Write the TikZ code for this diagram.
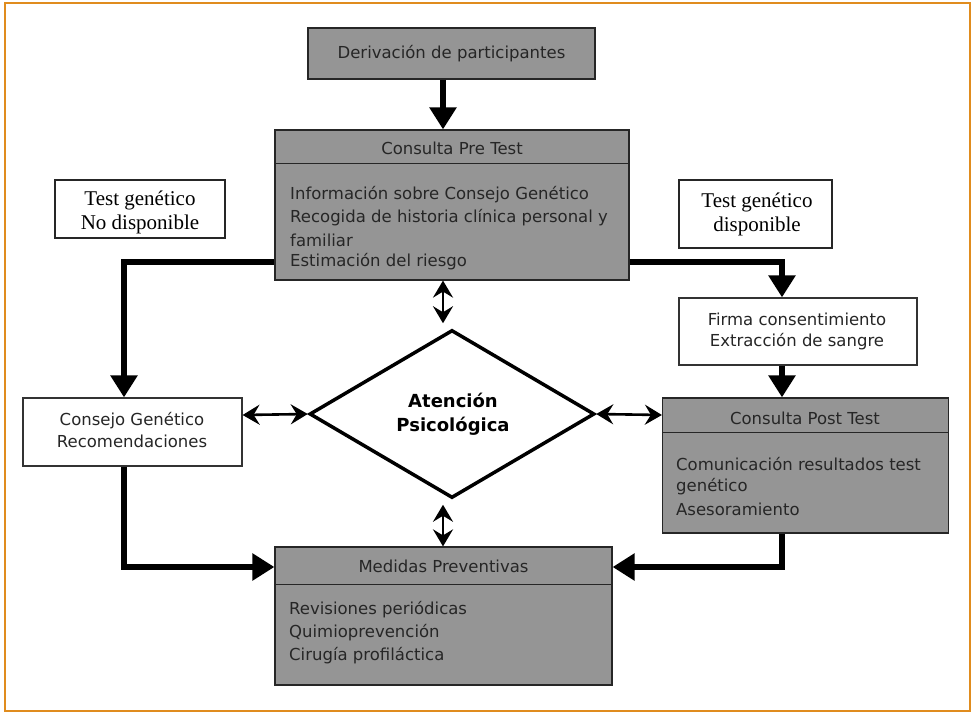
\documentclass[tikz,border=0pt]{standalone}
\usepackage{fontspec}
\setmainfont{DejaVu Sans}
\newfontfamily\serifx{Liberation Serif}
\usetikzlibrary{shapes.geometric,arrows.meta,calc}
\definecolor{boxgray}{HTML}{959595}
\definecolor{frameorange}{HTML}{E08C1E}
\begin{document}
\begin{tikzpicture}[x=1pt,y=-1pt,
  graybox/.style={draw=black!85,fill=boxgray,line width=1.2pt,inner sep=0pt},
  whitebox/.style={draw=black!80,fill=white,line width=1.2pt,inner sep=0pt},
  notebox/.style={draw=black!85,fill=white,line width=2.2pt,inner sep=0pt},
  txt/.style={font=\fontsize{16.5}{20}\selectfont,inner sep=0pt,text=black!85},
  sertxt/.style={font=\serifx\fontsize{21}{24}\selectfont,inner sep=0pt,align=center},
  thickarr/.style={line width=6pt,-{Triangle[length=22pt,width=26pt]}},
  thinarr/.style={line width=2.6pt,{Stealth[length=17pt,width=20pt,inset=6pt]}-{Stealth[length=17pt,width=20pt,inset=6pt]}}
]
\useasboundingbox (0,0) rectangle (972,712);
\fill[white] (0,0) rectangle (972,712);
\draw[frameorange,line width=2.2pt] (5,3) rectangle (970,711);

% Derivacion
\node[graybox,minimum width=287pt,minimum height=51pt] (deriv) at (451.5,53.5) {};
\node[txt] (derivt) at (deriv.center) {Derivación de participantes};

% Pre test
\node[graybox,minimum width=354pt,minimum height=150pt] (pre) at (452,205) {};
\draw[line width=1.2pt,black!85] ($(pre.north west)+(0,34)$) -- ($(pre.north east)+(0,34)$);
\node[txt] (preh) at (452,148) {Consulta Pre Test};
\node[txt,anchor=west] (pre1) at (290,195) {Información sobre Consejo Genético};
\node[txt,anchor=west] (pre2) at (290,218) {Recogida de historia clínica personal y};
\node[txt,anchor=west] (pre3) at (290,240) {familiar};
\node[txt,anchor=west] (pre4) at (290,262) {Estimación del riesgo};

% Notes
\node[notebox,minimum width=170pt,minimum height=58pt] (nodisp) at (140,209) {};
\node[sertxt] (nodispt) at (140,212) {Test genético\\No disponible};
\node[notebox,minimum width=153pt,minimum height=68pt] (disp) at (755.5,214) {};
\node[sertxt] (dispt) at (757,214) {Test genético\\disponible};

% Firma
\node[whitebox,minimum width=238pt,minimum height=67pt] (firma) at (798,331.5) {};
\node[txt,align=center,font=\fontsize{16.5}{21}\selectfont] (firmat) at (797,331) {Firma consentimiento\\Extracción de sangre};

% Consejo
\node[whitebox,minimum width=219pt,minimum height=68pt] (consejo) at (132.5,432) {};
\node[txt,align=center,font=\fontsize{16.5}{22}\selectfont] (consejot) at (132,430) {Consejo Genético\\Recomendaciones};

% Diamond
\node[diamond,draw=black,line width=3.5pt,fill=white,minimum width=285pt,minimum height=168pt,inner sep=0pt] (dia) at (452,414) {};
\node[font=\bfseries\fontsize{18}{24}\selectfont,align=center,inner sep=0pt] (diat) at (453,414) {Atención\\Psicológica};

% Post test
\node[graybox,minimum width=286pt,minimum height=135pt] (post) at (805.5,465.5) {};
\draw[line width=1.2pt,black!85] ($(post.north west)+(0,35)$) -- ($(post.north east)+(0,35)$);
\node[txt] (posth) at (805,418) {Consulta Post Test};
\node[txt,anchor=west] (post1) at (676,464) {Comunicación resultados test};
\node[txt,anchor=west] (post2) at (676,487) {genético};
\node[txt,anchor=west] (post3) at (676,509) {Asesoramiento};

% Medidas
\node[graybox,minimum width=337pt,minimum height=138pt] (med) at (443.5,616) {};
\draw[line width=1.2pt,black!85] ($(med.north west)+(0,38)$) -- ($(med.north east)+(0,38)$);
\node[txt] (medh) at (443.5,566) {Medidas Preventivas};
\node[txt,anchor=west] (med1) at (289,610) {Revisiones periódicas};
\node[txt,anchor=west] (med2) at (289,633) {Quimioprevención};
\node[txt,anchor=west] (med3) at (289,656) {Cirugía profiláctica};

% coordinates
\coordinate (a1) at (443,79);
\coordinate (lft) at (275,262);
\coordinate (rgt) at (629,262);
\coordinate (cdown) at (124,567);
\coordinate (pdown) at (782,567);

% thick arrows
\draw[thickarr] (deriv.south -| a1) -- (pre.north -| a1);
\draw[thickarr] (pre.west |- lft) -| (consejo.north -| cdown);
\draw[thickarr] (pre.east |- rgt) -| (firma.north -| pdown);
\draw[thickarr] (firma.south -| pdown) -- (post.north -| pdown);
\draw[thickarr] (consejo.south -| cdown) |- (med.west |- cdown);
\draw[thickarr] (post.south -| pdown) |- (med.east |- pdown);

% thin double arrows
\draw[thinarr] (pre.south -| a1) -- ($(dia.north)+(-9,-5)$);
\draw[thinarr] ($(dia.south)+(-9,5)$) -- (med.north -| a1);
\draw[thinarr] (consejo.east |- 0,415) -- (dia.west);
\draw[thinarr] (dia.east) -- (post.west |- 0,415);
\end{tikzpicture}
\end{document}
